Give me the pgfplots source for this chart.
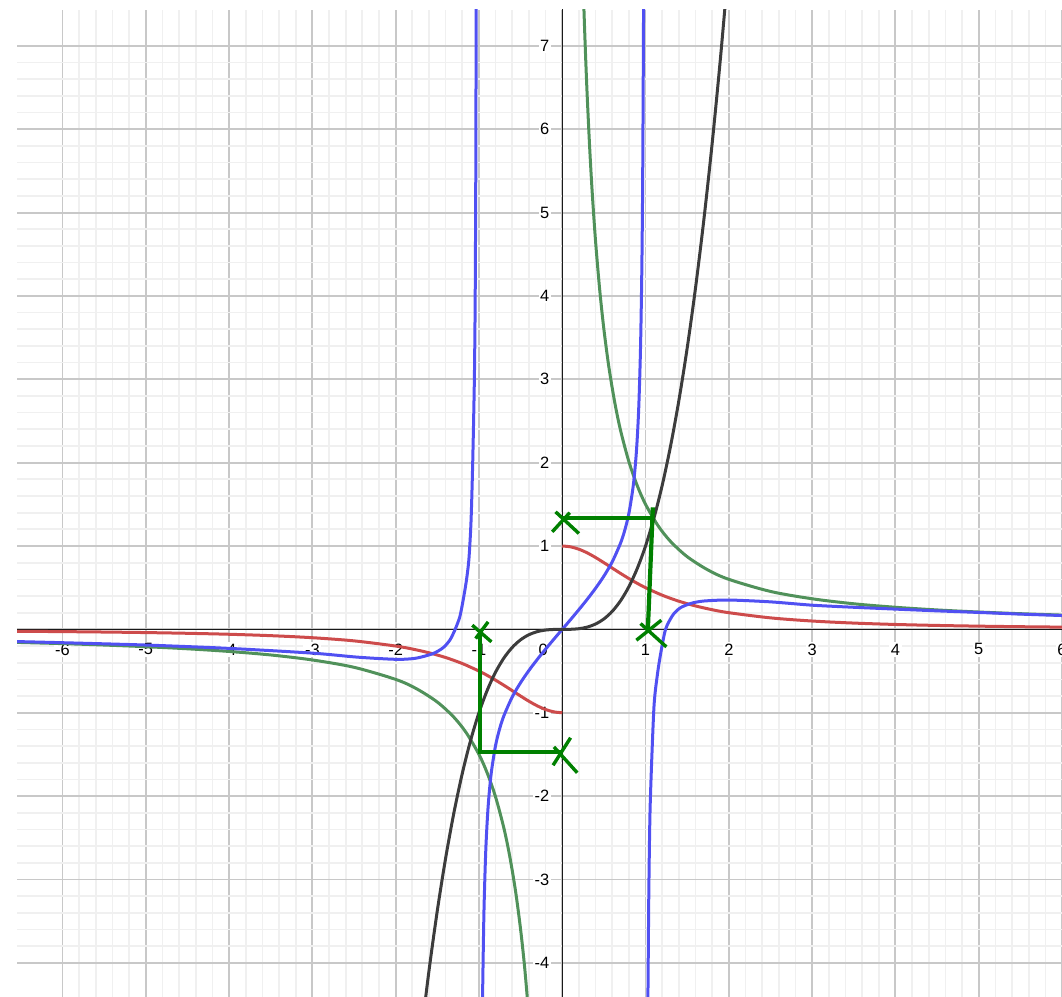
\documentclass[border=0pt]{standalone}
\usepackage{fontspec}
\setmainfont{Liberation Sans}
\usepackage{pgfplots}
\pgfplotsset{compat=1.18}

\definecolor{curveBlue}{RGB}{80,80,242}
\definecolor{curveRed}{RGB}{205,75,75}
\definecolor{curveGreen}{RGB}{80,145,90}
\definecolor{curveBlack}{RGB}{60,60,60}
\definecolor{penGreen}{RGB}{0,128,0}
\definecolor{gridMajor}{RGB}{200,200,200}
\definecolor{gridMinor}{RGB}{240,240,240}

\newcommand{\lbl}{\fontsize{8.2}{9}\selectfont}

\begin{document}
\begin{tikzpicture}
\useasboundingbox (0,0) rectangle (531pt,498.5pt);
\clip (0,0) rectangle (531pt,498.5pt);
\begin{axis}[
  at={(8.5pt,0pt)}, anchor=south west,
  scale only axis, width=522.5pt, height=493.5pt,
  xmin=-6.546, xmax=6.0, ymin=-4.41, ymax=7.43,
  xtick={-6,...,6}, ytick={-4,...,7},
  minor tick num=4,
  grid=both,
  major grid style={draw=gridMajor, line width=0.95pt},
  minor grid style={draw=gridMinor, line width=0.85pt},
  xticklabel=\empty, yticklabel=\empty,
  major tick length=0pt, minor tick length=0pt,
  axis line style={draw=none},
  clip=true,
]
% coordinate axes
\addplot[black!90, line width=0.65pt] coordinates {(-7,0) (7,0)};
\addplot[black!90, line width=0.65pt] coordinates {(0,-5) (0,8)};

% tick labels
\pgfplotsinvokeforeach{-6,-5,-4,-3,-2,-1,1,2,3,4,5,6}{
  \node[font=\lbl, fill=white, inner sep=0.8pt] at (axis cs:#1,0) [yshift=-10pt] {#1};
}
\pgfplotsinvokeforeach{-4,-3,-2,-1,1,2,3,4,5,6,7}{
  \node[font=\lbl, fill=white, inner sep=0.8pt, anchor=east] at (axis cs:0,#1) [xshift=-5.5pt] {#1};
}
\node[font=\lbl, fill=white, inner sep=0.8pt] at (axis cs:0,0) [xshift=-9.5pt, yshift=-10pt] {0};

% red: sign(x)/(1+x^2)
\addplot[curveRed, line width=1.5pt, smooth] coordinates {
 (0,1) (0.1,0.990) (0.2,0.9615) (0.3,0.9174) (0.4,0.8621) (0.5,0.8) (0.6,0.7353)
 (0.7,0.6711) (0.8,0.6098) (0.9,0.5525) (1,0.5) (1.2,0.4098) (1.4,0.3378)
 (1.6,0.2809) (1.8,0.2358) (2,0.2) (2.5,0.1379) (3,0.1) (3.5,0.0755) (4,0.0588)
 (4.5,0.0471) (5,0.0385) (5.5,0.0320) (6,0.0270) (6.2,0.0254)};
\addplot[curveRed, line width=1.5pt, smooth] coordinates {
 (-6.6,-0.0224) (-6,-0.0270) (-5.5,-0.0320) (-5,-0.0385) (-4.5,-0.0471) (-4,-0.0588)
 (-3.5,-0.0755) (-3,-0.1) (-2.5,-0.1379) (-2,-0.2) (-1.8,-0.2358) (-1.6,-0.2809)
 (-1.4,-0.3378) (-1.2,-0.4098) (-1,-0.5) (-0.9,-0.5525) (-0.8,-0.6098) (-0.7,-0.6711)
 (-0.6,-0.7353) (-0.5,-0.8) (-0.4,-0.8621) (-0.3,-0.9174) (-0.2,-0.9615) (-0.1,-0.990) (0,-1)};

% green
\addplot[curveGreen, line width=1.5pt, smooth] coordinates {
 (0.24,8.106) (0.26,7.449) (0.28,6.883) (0.30,6.391) (0.33,5.763) (0.36,5.237)
 (0.40,4.655) (0.45,4.070) (0.50,3.600) (0.56,3.145) (0.63,2.724) (0.70,2.387)
 (0.80,2.012) (0.90,1.725) (1.00,1.500) (1.15,1.244) (1.30,1.055) (1.50,0.872)
 (1.75,0.712) (2.00,0.600) (2.50,0.455) (3.00,0.367) (3.50,0.307) (4.00,0.265)
 (4.50,0.233) (5.00,0.208) (5.50,0.188) (6.00,0.171) (6.20,0.165)};
\addplot[curveGreen, line width=1.5pt, smooth] coordinates {
 (-6.6,-0.155) (-6,-0.171) (-5.5,-0.188) (-5,-0.208) (-4.5,-0.233) (-4,-0.265)
 (-3.5,-0.307) (-3,-0.367) (-2.5,-0.455) (-2,-0.600) (-1.75,-0.712) (-1.5,-0.872)
 (-1.3,-1.055) (-1.15,-1.244) (-1,-1.5) (-0.9,-1.725) (-0.8,-2.012) (-0.7,-2.387)
 (-0.63,-2.724) (-0.56,-3.145) (-0.5,-3.6) (-0.45,-4.070) (-0.40,-4.655)};

% blue, three branches
\addplot[curveBlue, line width=1.5pt, smooth, tension=0.45] coordinates {
 (-6.6,-0.145) (-6,-0.16) (-5,-0.188) (-4,-0.228) (-3,-0.285) (-2.5,-0.33)
 (-2.2,-0.35) (-1.95,-0.36) (-1.75,-0.345) (-1.55,-0.29) (-1.43,-0.22) (-1.35,-0.13)
 (-1.29,-0.01) (-1.23,0.15) (-1.19,0.35) (-1.15,0.59) (-1.12,0.85) (-1.095,1.3)
 (-1.075,2.0) (-1.055,3.0) (-1.045,4.0) (-1.038,5.5) (-1.033,7.6)};
\addplot[curveBlue, line width=1.5pt, smooth, tension=0.5] coordinates {
 (-0.962,-4.75) (-0.955,-4.29) (-0.94,-3.39) (-0.92,-2.70) (-0.90,-2.285)
 (-0.88,-2.0) (-0.85,-1.705) (-0.80,-1.39) (-0.75,-1.187) (-0.70,-1.035)
 (-0.60,-0.810) (-0.50,-0.639) (-0.40,-0.493) (-0.30,-0.361) (-0.20,-0.237)
 (-0.10,-0.117) (0,0) (0.10,0.117) (0.20,0.237) (0.30,0.361) (0.40,0.493)
 (0.50,0.639) (0.60,0.810) (0.70,1.035) (0.75,1.187) (0.80,1.39) (0.85,1.705)
 (0.88,2.0) (0.90,2.285) (0.92,2.70) (0.94,3.39) (0.955,4.29) (0.965,5.32)
 (0.975,7.17) (0.98,8.78)};
\addplot[curveBlue, line width=1.5pt, smooth, tension=0.45] coordinates {
 (1.027,-4.6) (1.032,-4.0) (1.04,-3.1) (1.056,-2.1) (1.10,-0.95) (1.14,-0.56)
 (1.18,-0.30) (1.24,0) (1.33,0.175) (1.42,0.26) (1.55,0.313) (1.7,0.34) (2,0.352)
 (2.5,0.33) (3,0.29) (3.5,0.265) (4,0.243) (4.5,0.222) (5,0.203) (5.5,0.183)
 (6,0.166) (6.2,0.16)};

% black: x^3
\addplot[curveBlack, line width=1.5pt, smooth] coordinates {
 (-1.7,-4.913) (-1.6,-4.096) (-1.5,-3.375) (-1.4,-2.744) (-1.3,-2.197) (-1.2,-1.728)
 (-1.1,-1.331) (-1.0,-1) (-0.9,-0.729) (-0.8,-0.512) (-0.7,-0.343) (-0.6,-0.216)
 (-0.5,-0.125) (-0.4,-0.064) (-0.3,-0.027) (-0.2,-0.008) (-0.1,-0.001) (0,0)
 (0.1,0.001) (0.2,0.008) (0.3,0.027) (0.4,0.064) (0.5,0.125) (0.6,0.216)
 (0.7,0.343) (0.8,0.512) (0.9,0.729) (1.0,1) (1.1,1.331) (1.2,1.728) (1.3,2.197)
 (1.4,2.744) (1.5,3.375) (1.6,4.096) (1.7,4.913) (1.8,5.832) (1.9,6.859) (2.0,8)};

% pen strokes: paths between the curves and the axes
\addplot[penGreen, line width=2.1pt] coordinates {(0,1.332) (1.088,1.332)};
\addplot[penGreen, line width=2.1pt] coordinates {(1.088,1.464) (1.028,0.0)};
\addplot[penGreen, line width=2.1pt] coordinates {(-0.992,0.0) (-0.992,-1.50)};
\addplot[penGreen, line width=2.1pt] coordinates {(-0.992,-1.475) (-0.01,-1.475)};
% crosses at the ends
\addplot[penGreen, line width=1.7pt] coordinates {(-0.08,1.41) (0.20,1.15)};
\addplot[penGreen, line width=1.7pt] coordinates {(-0.12,1.17) (0.09,1.40)};
\addplot[penGreen, line width=1.7pt] coordinates {(0.94,0.07) (1.25,-0.21)};
\addplot[penGreen, line width=1.7pt] coordinates {(1.19,0.11) (0.89,-0.13)};
\addplot[penGreen, line width=1.7pt] coordinates {(-1.08,0.05) (-0.85,-0.15)};
\addplot[penGreen, line width=1.7pt] coordinates {(-0.89,0.09) (-1.04,-0.11)};
\addplot[penGreen, line width=1.7pt] coordinates {(-0.11,-1.63) (0.10,-1.30)};
\addplot[penGreen, line width=1.7pt] coordinates {(-0.10,-1.41) (0.18,-1.72)};
\end{axis}
\end{tikzpicture}
\end{document}
